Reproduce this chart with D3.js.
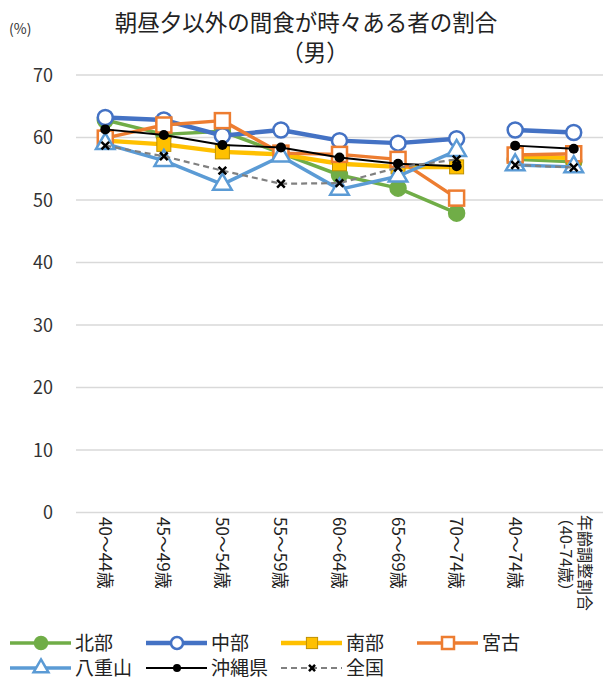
<!DOCTYPE html>
<html lang="ja">
<head>
<meta charset="UTF-8">
<title>朝昼夕以外の間食が時々ある者の割合（男）</title>
<style>
  body { margin: 0; background: #fff; }
  svg text { font-family: "Noto Sans CJK JP", "Noto Sans", sans-serif; }
</style>
</head>
<body>
<div id="chart"></div>
<script src="https://cdn.jsdelivr.net/npm/d3@7"></script>
<script>
var width = 604, height = 682;

// categories (last two are a separate group, no line between 70-74 and 40-74)
var categories = ["40～44歳", "45～49歳", "50～54歳", "55～59歳", "60～64歳", "65～69歳", "70～74歳", "40～74歳", "年齢調整割合"];
var yTicks = [0, 10, 20, 30, 40, 50, 60, 70];

var hokubu   = [62.8, 60.5, 61.0, 57.5, 54.0, 51.9, 47.9, 56.5, 56.1];
var chubu    = [63.2, 62.8, 60.3, 61.2, 59.5, 59.1, 59.8, 61.2, 60.8];
var nanbu    = [59.5, 58.9, 57.7, 57.3, 55.8, 55.3, 55.3, 57.0, 56.7];
var miyako   = [59.9, 62.0, 62.7, 57.5, 57.3, 56.5, 50.3, 57.2, 57.4];
var yaeyama  = [59.0, 56.3, 52.5, 57.0, 51.7, 53.8, 57.9, 55.6, 55.3];
var okinawa  = [61.3, 60.4, 58.8, 58.4, 56.8, 55.8, 55.4, 58.7, 58.2];
var zenkoku  = [58.7, 57.0, 54.7, 52.6, 52.7, 55.2, 56.5, 55.6, 55.2];

var series = [
  {name: "北部",   values: hokubu,  color: "#70AD47", lw: 3.5, marker: "circleFill", mfill: "#70AD47", mstroke: "#70AD47"},
  {name: "中部",   values: chubu,   color: "#4472C4", lw: 4.5, marker: "circle",     mfill: "#fff",    mstroke: "#4472C4"},
  {name: "南部",   values: nanbu,   color: "#FFC000", lw: 4.5, marker: "squareFill", mfill: "#FFC000", mstroke: "#BF9000"},
  {name: "宮古",   values: miyako,  color: "#ED7D31", lw: 3.5, marker: "square",     mfill: "#fff",    mstroke: "#ED7D31"},
  {name: "八重山", values: yaeyama, color: "#5B9BD5", lw: 3.5, marker: "triangle",   mfill: "#fff",    mstroke: "#5B9BD5"},
  {name: "沖縄県", values: okinawa, color: "#000000", lw: 1.8, marker: "dot",        mfill: "#000",    mstroke: "#000"},
  {name: "全国",   values: zenkoku, color: "#808080", lw: 2.2, marker: "cross",      mfill: "#000",    mstroke: "#000", dash: "6,4"}
];

var svg = d3.select("#chart").append("svg")
  .attr("width", width)
  .attr("height", height);

var x = d3.scaleBand().domain(categories).range([76, 603]);
var y = d3.scaleLinear().domain([0, 70]).range([512.5, 75]);
function cx(i) { return x(categories[i]) + x.bandwidth() / 2; }

// title
svg.append("text").attr("x", 306).attr("y", 31).attr("text-anchor", "middle")
  .style("font-size", "22.5px").style("fill", "#222").text("朝昼夕以外の間食が時々ある者の割合");
svg.append("text").attr("x", 315).attr("y", 61).attr("text-anchor", "middle")
  .style("font-size", "22.5px").style("fill", "#222").text("（男）");
svg.append("text").attr("x", 9).attr("y", 34)
  .style("font-size", "14px").style("fill", "#333").text("(%)");

// gridlines
svg.append("g").selectAll("line").data(yTicks).enter().append("line")
  .attr("x1", 76).attr("x2", 603)
  .attr("y1", function(d) { return y(d); }).attr("y2", function(d) { return y(d); })
  .style("stroke", "#d9d9d9").style("stroke-width", 1.5);

// y labels
svg.append("g").selectAll("text").data(yTicks).enter().append("text")
  .attr("x", 53).attr("y", function(d) { return y(d) + 6.5; })
  .attr("text-anchor", "end")
  .style("font-size", "18px").style("fill", "#333")
  .text(function(d) { return d; });

// x labels, rotated
var xl = svg.append("g");
categories.forEach(function(c, i) {
  if (i < 8) {
    xl.append("text")
      .attr("transform", "translate(" + (cx(i) - 6.5) + ",517) rotate(90)")
      .style("font-size", "17px").style("fill", "#222")
      .text(c);
  } else {
    xl.append("text")
      .attr("transform", "translate(" + (cx(i) + 5.5) + ",515) rotate(90)")
      .style("font-size", "16px").style("fill", "#222")
      .text(c);
    xl.append("text")
      .attr("transform", "translate(" + (cx(i) - 14) + ",510) rotate(90)")
      .style("font-size", "16px").style("fill", "#222")
      .text("（40-74歳）");
  }
});

function drawMarker(g, type, px, py, s, big) {
  var k = big ? 1 : 0.8;
  if (type === "circle" || type === "circleFill") {
    g.append("circle").attr("cx", px).attr("cy", py).attr("r", 7.5 * k)
      .style("fill", s.mfill).style("stroke", s.mstroke).style("stroke-width", 2.5);
  } else if (type === "dot") {
    g.append("circle").attr("cx", px).attr("cy", py).attr("r", 5 * k)
      .style("fill", "#000");
  } else if (type === "square" || type === "squareFill") {
    var h = (type === "square" ? 7.5 : 7) * k;
    g.append("rect").attr("x", px - h).attr("y", py - h).attr("width", 2 * h).attr("height", 2 * h)
      .style("fill", s.mfill).style("stroke", s.mstroke).style("stroke-width", type === "square" ? 2.5 : 1);
  } else if (type === "triangle") {
    g.append("path")
      .attr("d", d3.symbol().type(d3.symbolTriangle).size(150 * k * k))
      .attr("transform", "translate(" + px + "," + py + ")")
      .style("fill", s.mfill).style("stroke", s.mstroke).style("stroke-width", 2.5);
  } else if (type === "cross") {
    g.append("path")
      .attr("d", d3.symbol().type(d3.symbolX).size(40 * k * k))
      .attr("transform", "translate(" + px + "," + py + ")")
      .style("fill", "none").style("stroke", "#000").style("stroke-width", 2.5);
  }
}

// lines: broken between index 6 and 7
var line = d3.line()
  .x(function(d) { return cx(d.i); })
  .y(function(d) { return y(d.v); });

series.forEach(function(s) {
  var g = svg.append("g").attr("class", "series");
  var pts = s.values.map(function(v, i) { return {i: i, v: v}; });
  [pts.slice(0, 7), pts.slice(7)].forEach(function(seg) {
    g.append("path").attr("d", line(seg))
      .style("fill", "none").style("stroke", s.color)
      .style("stroke-width", s.lw)
      .style("stroke-dasharray", s.dash || null)
      .style("stroke-linejoin", "round");
  });
  pts.forEach(function(p) { drawMarker(g, s.marker, cx(p.i), y(p.v), s, true); });
});

// legend
var legPos = [[10, 643], [146, 643], [281, 643], [417, 643], [10, 668], [146, 668], [281, 668]];
series.forEach(function(s, i) {
  var lx = legPos[i][0], ly = legPos[i][1];
  var g = svg.append("g");
  g.append("line").attr("x1", lx).attr("x2", lx + 61).attr("y1", ly).attr("y2", ly)
    .style("stroke", s.color).style("stroke-width", s.lw)
    .style("stroke-dasharray", s.dash || null);
  drawMarker(g, s.marker, lx + 31, ly, s, false);
  g.append("text").attr("x", lx + 65).attr("y", ly + 7)
    .style("font-size", "19px").style("fill", "#222").text(s.name);
});
</script>
</body>
</html>
